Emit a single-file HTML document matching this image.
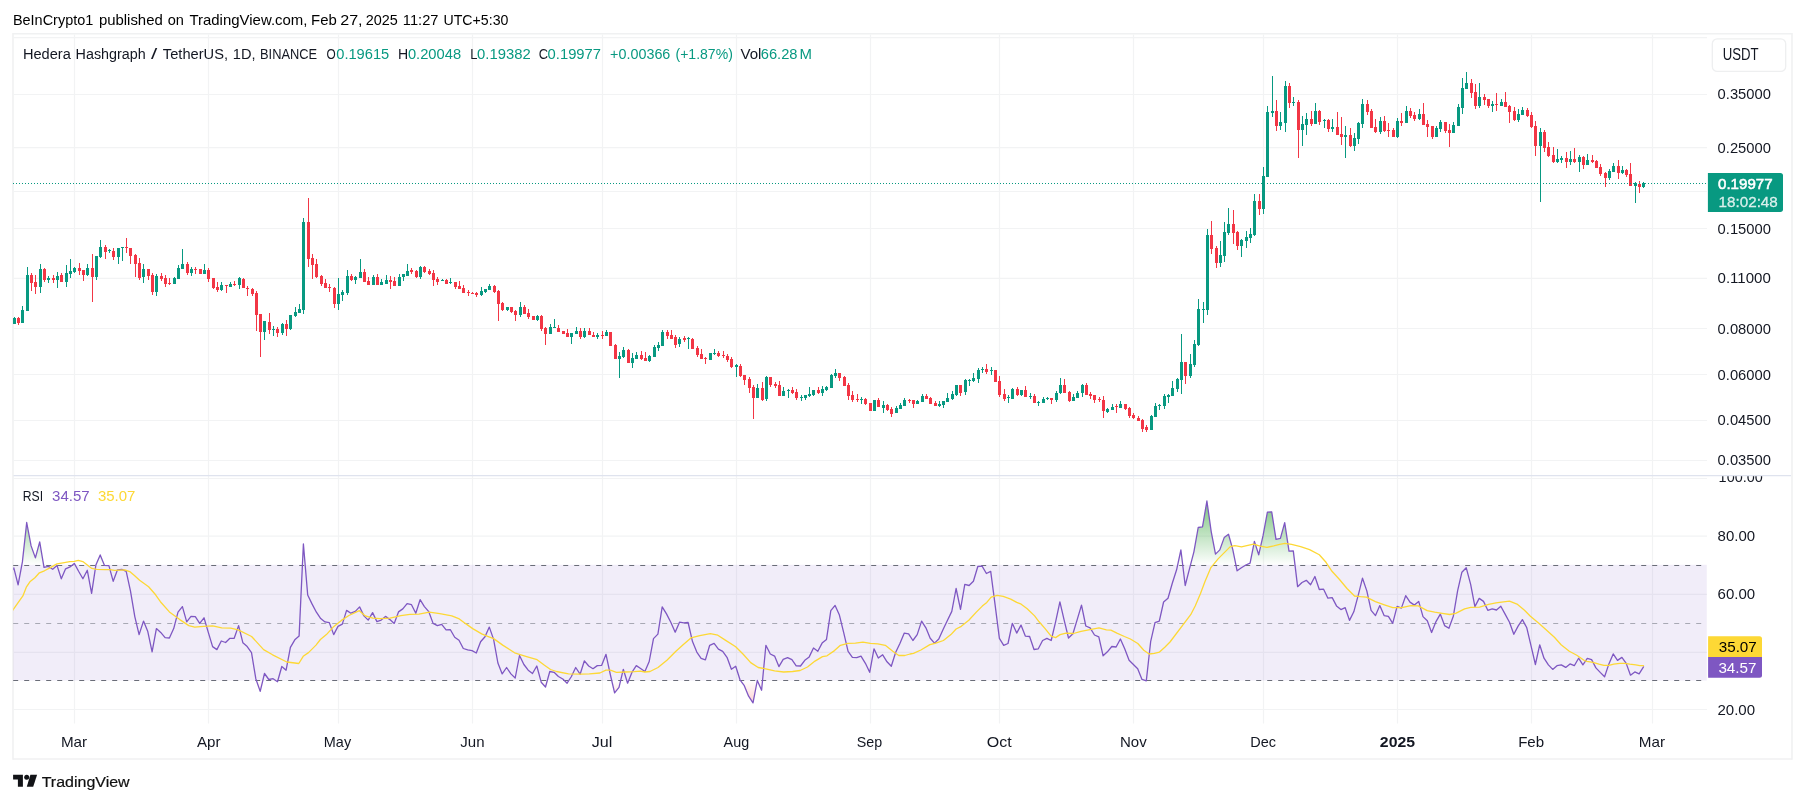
<!DOCTYPE html>
<html><head><meta charset="utf-8"><title>HBARUSDT chart</title>
<style>html,body{margin:0;padding:0;background:#fff;}body{width:1805px;height:803px;overflow:hidden;font-family:"Liberation Sans", sans-serif;}svg text{white-space:pre;}</style>
</head><body>
<svg width="1805" height="803" viewBox="0 0 1805 803" font-family='"Liberation Sans", sans-serif' style="display:block;will-change:transform">
<rect width="1805" height="803" fill="#fff"/>
<text x="12.90" y="24.7" font-size="14.6" fill="#000" font-weight="normal" text-anchor="start" textLength="80.41" lengthAdjust="spacingAndGlyphs">BeInCrypto1</text>
<text x="98.90" y="24.7" font-size="14.6" fill="#000" font-weight="normal" text-anchor="start" textLength="63.87" lengthAdjust="spacingAndGlyphs">published</text>
<text x="167.69" y="24.7" font-size="14.6" fill="#000" font-weight="normal" text-anchor="start" textLength="16.21" lengthAdjust="spacingAndGlyphs">on</text>
<text x="189.43" y="24.7" font-size="14.6" fill="#000" font-weight="normal" text-anchor="start" textLength="118.04" lengthAdjust="spacingAndGlyphs">TradingView.com,</text>
<text x="311.10" y="24.7" font-size="14.6" fill="#000" font-weight="normal" text-anchor="start" textLength="25.72" lengthAdjust="spacingAndGlyphs">Feb</text>
<text x="340.20" y="24.7" font-size="14.6" fill="#000" font-weight="normal" text-anchor="start" textLength="22.40" lengthAdjust="spacingAndGlyphs">27,</text>
<text x="365.80" y="24.7" font-size="14.6" fill="#000" font-weight="normal" text-anchor="start" textLength="32.10" lengthAdjust="spacingAndGlyphs">2025</text>
<text x="402.88" y="24.7" font-size="14.6" fill="#000" font-weight="normal" text-anchor="start" textLength="35.57" lengthAdjust="spacingAndGlyphs">11:27</text>
<text x="443.50" y="24.7" font-size="14.6" fill="#000" font-weight="normal" text-anchor="start" textLength="64.87" lengthAdjust="spacingAndGlyphs">UTC+5:30</text>
<g stroke="#f0f1f2" stroke-width="1.6" fill="none">
<line x1="13.0" y1="33.0" x2="13.0" y2="759.8"/><line x1="1792.0" y1="33.0" x2="1792.0" y2="759.8"/>
<line x1="13.0" y1="33.8" x2="1792.0" y2="33.8"/><line x1="13.0" y1="759.0" x2="1792.0" y2="759.0"/>
</g>
<g stroke="#f2f3f4" stroke-width="1.2">
<line x1="74.5" y1="34.5" x2="74.5" y2="723.6"/>
<line x1="208.5" y1="34.5" x2="208.5" y2="723.6"/>
<line x1="338.5" y1="34.5" x2="338.5" y2="723.6"/>
<line x1="472.5" y1="34.5" x2="472.5" y2="723.6"/>
<line x1="602.5" y1="34.5" x2="602.5" y2="723.6"/>
<line x1="736.5" y1="34.5" x2="736.5" y2="723.6"/>
<line x1="870.5" y1="34.5" x2="870.5" y2="723.6"/>
<line x1="999.5" y1="34.5" x2="999.5" y2="723.6"/>
<line x1="1133.5" y1="34.5" x2="1133.5" y2="723.6"/>
<line x1="1263.5" y1="34.5" x2="1263.5" y2="723.6"/>
<line x1="1397.5" y1="34.5" x2="1397.5" y2="723.6"/>
<line x1="1531.5" y1="34.5" x2="1531.5" y2="723.6"/>
<line x1="1652.5" y1="34.5" x2="1652.5" y2="723.6"/>
<line x1="13.5" y1="37.6" x2="1707" y2="37.6"/>
<line x1="13.5" y1="94.5" x2="1707" y2="94.5"/>
<line x1="13.5" y1="147.6" x2="1707" y2="147.6"/>
<line x1="13.5" y1="191.5" x2="1707" y2="191.5"/>
<line x1="13.5" y1="228.5" x2="1707" y2="228.5"/>
<line x1="13.5" y1="278.4" x2="1707" y2="278.4"/>
<line x1="13.5" y1="328.5" x2="1707" y2="328.5"/>
<line x1="13.5" y1="374.5" x2="1707" y2="374.5"/>
<line x1="13.5" y1="420.5" x2="1707" y2="420.5"/>
<line x1="13.5" y1="460.5" x2="1707" y2="460.5"/>
<line x1="13.5" y1="478.5" x2="1707" y2="478.5"/>
<line x1="13.5" y1="536.2" x2="1707" y2="536.2"/>
<line x1="13.5" y1="594.3" x2="1707" y2="594.3"/>
<line x1="13.5" y1="652.3" x2="1707" y2="652.3"/>
<line x1="13.5" y1="709.5" x2="1707" y2="709.5"/>
</g>
<line x1="13.5" y1="475.6" x2="1791" y2="475.6" stroke="#dfe3ee" stroke-width="1.1"/>
<rect x="13.2" y="564.8" width="1693.6" height="115.7" fill="#7e57c2" fill-opacity="0.105"/>
<g shape-rendering="crispEdges">
<path fill="#089981" d="M14 317h1v7h-1zM22 306h1v17h-1zM27 267h1v44h-1zM40 264h1v29h-1zM48 276h1v7h-1zM57 272h1v16h-1zM66 265h1v22h-1zM70 259h1v19h-1zM74 267h1v6h-1zM87 264h1v12h-1zM96 256h1v24h-1zM100 240h1v18h-1zM109 249h1v4h-1zM118 248h1v16h-1zM122 247h1v14h-1zM143 264h1v19h-1zM156 274h1v22h-1zM174 277h1v7h-1zM178 265h1v14h-1zM182 249h1v20h-1zM191 267h1v9h-1zM204 264h1v10h-1zM221 282h1v9h-1zM230 282h1v5h-1zM239 277h1v12h-1zM264 321h1v19h-1zM273 326h1v10h-1zM282 323h1v12h-1zM290 315h1v15h-1zM295 307h1v10h-1zM299 304h1v9h-1zM303 218h1v96h-1zM338 278h1v32h-1zM342 290h1v11h-1zM347 270h1v25h-1zM355 276h1v8h-1zM360 259h1v19h-1zM373 275h1v10h-1zM381 279h1v6h-1zM386 275h1v9h-1zM399 274h1v12h-1zM403 274h1v7h-1zM407 264h1v12h-1zM420 266h1v13h-1zM442 279h1v2h-1zM450 278h1v6h-1zM481 287h1v9h-1zM485 289h1v4h-1zM489 284h1v6h-1zM507 307h1v4h-1zM520 302h1v15h-1zM537 315h1v6h-1zM550 324h1v10h-1zM554 319h1v9h-1zM571 333h1v11h-1zM576 327h1v7h-1zM584 328h1v10h-1zM597 333h1v6h-1zM606 330h1v6h-1zM619 352h1v26h-1zM623 347h1v11h-1zM632 353h1v15h-1zM636 352h1v7h-1zM649 355h1v7h-1zM654 345h1v12h-1zM658 342h1v9h-1zM662 330h1v16h-1zM679 337h1v10h-1zM688 337h1v12h-1zM710 353h1v7h-1zM714 349h1v6h-1zM736 364h1v13h-1zM757 384h1v14h-1zM766 376h1v25h-1zM783 387h1v9h-1zM788 389h1v9h-1zM801 395h1v6h-1zM805 395h1v5h-1zM809 387h1v10h-1zM813 390h1v6h-1zM822 386h1v10h-1zM826 386h1v5h-1zM831 374h1v14h-1zM835 369h1v9h-1zM861 397h1v7h-1zM874 400h1v11h-1zM883 401h1v12h-1zM896 406h1v7h-1zM900 403h1v6h-1zM904 398h1v8h-1zM917 400h1v4h-1zM922 394h1v8h-1zM939 401h1v6h-1zM943 401h1v7h-1zM947 393h1v9h-1zM952 391h1v9h-1zM956 385h1v11h-1zM965 379h1v16h-1zM969 379h1v7h-1zM973 373h1v9h-1zM978 368h1v15h-1zM982 367h1v6h-1zM991 367h1v8h-1zM1008 395h1v8h-1zM1012 388h1v11h-1zM1021 390h1v6h-1zM1030 393h1v6h-1zM1038 401h1v5h-1zM1043 397h1v6h-1zM1047 397h1v3h-1zM1056 391h1v11h-1zM1060 378h1v16h-1zM1073 394h1v7h-1zM1077 391h1v7h-1zM1082 384h1v13h-1zM1107 408h1v5h-1zM1112 404h1v6h-1zM1120 401h1v7h-1zM1151 415h1v15h-1zM1155 403h1v14h-1zM1159 404h1v6h-1zM1164 394h1v15h-1zM1168 394h1v9h-1zM1172 381h1v15h-1zM1177 378h1v14h-1zM1181 334h1v60h-1zM1190 354h1v24h-1zM1194 340h1v27h-1zM1198 299h1v47h-1zM1203 302h1v21h-1zM1207 229h1v86h-1zM1220 241h1v26h-1zM1224 222h1v40h-1zM1228 208h1v27h-1zM1241 239h1v18h-1zM1246 231h1v17h-1zM1250 228h1v15h-1zM1254 194h1v42h-1zM1263 167h1v47h-1zM1267 106h1v71h-1zM1272 76h1v41h-1zM1280 112h1v18h-1zM1285 81h1v51h-1zM1293 97h1v9h-1zM1302 116h1v30h-1zM1306 113h1v22h-1zM1315 103h1v21h-1zM1324 119h1v9h-1zM1332 119h1v13h-1zM1345 126h1v32h-1zM1354 133h1v18h-1zM1358 122h1v22h-1zM1362 99h1v29h-1zM1380 117h1v17h-1zM1397 118h1v20h-1zM1406 106h1v17h-1zM1419 109h1v11h-1zM1436 126h1v11h-1zM1440 120h1v12h-1zM1453 122h1v11h-1zM1458 104h1v22h-1zM1462 78h1v36h-1zM1466 72h1v17h-1zM1479 83h1v25h-1zM1492 101h1v11h-1zM1501 99h1v7h-1zM1518 109h1v13h-1zM1522 107h1v8h-1zM1540 128h1v74h-1zM1557 149h1v14h-1zM1561 156h1v7h-1zM1570 151h1v14h-1zM1579 155h1v17h-1zM1587 154h1v11h-1zM1609 169h1v11h-1zM1613 163h1v9h-1zM1622 166h1v8h-1zM1635 182h1v21h-1zM1643 182h1v6h-1zM13 318h3v6h-3zM21 310h3v13h-3zM26 275h3v36h-3zM39 269h3v18h-3zM47 278h3v2h-3zM56 276h3v4h-3zM65 273h3v9h-3zM69 271h3v3h-3zM73 268h3v4h-3zM86 268h3v7h-3zM95 256h3v21h-3zM99 247h3v10h-3zM108 250h3v1h-3zM117 248h3v9h-3zM121 247h3v1h-3zM142 269h3v8h-3zM155 276h3v16h-3zM173 278h3v6h-3zM177 268h3v11h-3zM181 264h3v5h-3zM190 269h3v4h-3zM203 270h3v4h-3zM220 285h3v5h-3zM229 284h3v3h-3zM238 278h3v7h-3zM263 321h3v11h-3zM272 329h3v1h-3zM281 324h3v9h-3zM289 315h3v14h-3zM294 312h3v4h-3zM298 309h3v4h-3zM302 222h3v88h-3zM337 294h3v10h-3zM341 292h3v3h-3zM346 276h3v17h-3zM354 277h3v3h-3zM359 272h3v6h-3zM372 277h3v8h-3zM380 282h3v3h-3zM385 280h3v4h-3zM398 277h3v9h-3zM402 274h3v3h-3zM406 271h3v5h-3zM419 267h3v10h-3zM441 280h3v1h-3zM449 282h3v1h-3zM480 291h3v4h-3zM484 289h3v3h-3zM488 286h3v4h-3zM506 307h3v3h-3zM519 307h3v8h-3zM536 316h3v4h-3zM549 327h3v7h-3zM553 327h3v1h-3zM570 333h3v4h-3zM575 331h3v3h-3zM583 331h3v6h-3zM596 335h3v2h-3zM605 332h3v4h-3zM618 356h3v3h-3zM622 350h3v7h-3zM631 358h3v5h-3zM635 355h3v4h-3zM648 356h3v5h-3zM653 347h3v10h-3zM657 345h3v3h-3zM661 332h3v14h-3zM678 339h3v5h-3zM687 338h3v1h-3zM709 353h3v7h-3zM713 353h3v1h-3zM735 365h3v2h-3zM756 388h3v10h-3zM765 377h3v22h-3zM782 391h3v5h-3zM787 390h3v1h-3zM800 397h3v1h-3zM804 395h3v3h-3zM808 394h3v2h-3zM812 390h3v5h-3zM821 389h3v4h-3zM825 387h3v3h-3zM830 375h3v13h-3zM834 373h3v3h-3zM860 399h3v1h-3zM873 400h3v11h-3zM882 405h3v3h-3zM895 408h3v5h-3zM899 405h3v4h-3zM903 400h3v6h-3zM916 401h3v3h-3zM921 396h3v6h-3zM938 404h3v2h-3zM942 401h3v4h-3zM946 398h3v4h-3zM951 394h3v5h-3zM955 385h3v10h-3zM964 380h3v12h-3zM968 380h3v1h-3zM972 378h3v3h-3zM977 370h3v9h-3zM981 369h3v1h-3zM990 370h3v1h-3zM1007 397h3v1h-3zM1011 389h3v10h-3zM1020 390h3v5h-3zM1029 396h3v1h-3zM1037 402h3v1h-3zM1042 399h3v4h-3zM1046 398h3v1h-3zM1055 393h3v7h-3zM1059 385h3v8h-3zM1072 397h3v4h-3zM1076 393h3v5h-3zM1081 385h3v8h-3zM1106 409h3v3h-3zM1111 407h3v3h-3zM1119 404h3v4h-3zM1150 416h3v14h-3zM1154 406h3v11h-3zM1158 405h3v1h-3zM1163 396h3v10h-3zM1167 395h3v2h-3zM1171 388h3v8h-3zM1176 379h3v10h-3zM1180 362h3v18h-3zM1189 364h3v12h-3zM1193 344h3v21h-3zM1197 309h3v36h-3zM1202 309h3v1h-3zM1206 235h3v75h-3zM1219 255h3v8h-3zM1223 232h3v24h-3zM1227 224h3v9h-3zM1240 240h3v6h-3zM1245 237h3v4h-3zM1249 234h3v4h-3zM1253 201h3v34h-3zM1262 176h3v33h-3zM1266 112h3v65h-3zM1271 111h3v2h-3zM1279 122h3v4h-3zM1284 86h3v37h-3zM1292 102h3v1h-3zM1301 124h3v6h-3zM1305 119h3v6h-3zM1314 111h3v13h-3zM1323 120h3v1h-3zM1331 127h3v2h-3zM1344 135h3v2h-3zM1353 138h3v8h-3zM1357 123h3v16h-3zM1361 104h3v20h-3zM1379 121h3v11h-3zM1396 121h3v16h-3zM1405 111h3v12h-3zM1418 114h3v5h-3zM1435 128h3v9h-3zM1439 122h3v7h-3zM1452 125h3v8h-3zM1457 107h3v19h-3zM1461 88h3v20h-3zM1465 83h3v6h-3zM1478 97h3v9h-3zM1491 104h3v2h-3zM1500 102h3v4h-3zM1517 114h3v6h-3zM1521 110h3v5h-3zM1539 132h3v14h-3zM1556 159h3v3h-3zM1560 158h3v2h-3zM1569 159h3v3h-3zM1578 157h3v5h-3zM1586 160h3v5h-3zM1608 171h3v7h-3zM1612 166h3v6h-3zM1621 170h3v3h-3zM1634 183h3v3h-3zM1642 183h3v4h-3z"/>
<path fill="#f23645" d="M18 317h1v8h-1zM31 273h1v18h-1zM35 275h1v19h-1zM44 268h1v14h-1zM53 275h1v8h-1zM61 273h1v9h-1zM79 263h1v12h-1zM83 270h1v11h-1zM92 254h1v48h-1zM105 245h1v14h-1zM113 248h1v12h-1zM126 238h1v15h-1zM130 248h1v16h-1zM135 254h1v23h-1zM139 258h1v22h-1zM148 269h1v11h-1zM152 273h1v22h-1zM161 273h1v8h-1zM165 275h1v12h-1zM169 278h1v7h-1zM187 262h1v13h-1zM195 267h1v7h-1zM200 269h1v5h-1zM208 268h1v14h-1zM213 278h1v11h-1zM217 282h1v10h-1zM226 285h1v8h-1zM234 281h1v5h-1zM243 278h1v10h-1zM247 286h1v10h-1zM252 288h1v8h-1zM256 291h1v40h-1zM260 314h1v43h-1zM269 313h1v21h-1zM277 327h1v10h-1zM286 320h1v16h-1zM308 198h1v69h-1zM312 254h1v25h-1zM316 259h1v19h-1zM321 275h1v11h-1zM325 279h1v9h-1zM329 284h1v8h-1zM334 287h1v21h-1zM351 274h1v7h-1zM364 269h1v13h-1zM368 277h1v8h-1zM377 274h1v11h-1zM390 276h1v13h-1zM394 277h1v9h-1zM411 268h1v6h-1zM416 270h1v8h-1zM424 266h1v7h-1zM429 269h1v6h-1zM433 270h1v16h-1zM437 277h1v8h-1zM446 279h1v5h-1zM455 282h1v7h-1zM459 281h1v8h-1zM463 285h1v8h-1zM468 290h1v6h-1zM472 292h1v2h-1zM476 292h1v5h-1zM494 285h1v8h-1zM498 290h1v31h-1zM502 302h1v9h-1zM511 307h1v6h-1zM515 310h1v11h-1zM524 305h1v9h-1zM528 309h1v10h-1zM533 316h1v4h-1zM541 315h1v16h-1zM545 327h1v18h-1zM558 325h1v7h-1zM563 331h1v3h-1zM567 329h1v8h-1zM580 328h1v11h-1zM589 328h1v7h-1zM593 332h1v5h-1zM602 331h1v8h-1zM610 332h1v14h-1zM615 344h1v15h-1zM628 349h1v14h-1zM641 351h1v9h-1zM645 352h1v9h-1zM667 330h1v9h-1zM671 330h1v9h-1zM675 335h1v13h-1zM684 336h1v6h-1zM692 338h1v11h-1zM697 346h1v11h-1zM701 349h1v10h-1zM705 357h1v7h-1zM718 351h1v6h-1zM723 351h1v7h-1zM727 354h1v8h-1zM731 357h1v11h-1zM740 364h1v13h-1zM744 375h1v10h-1zM749 377h1v16h-1zM753 385h1v34h-1zM762 382h1v19h-1zM770 377h1v10h-1zM775 382h1v6h-1zM779 381h1v15h-1zM792 387h1v7h-1zM796 389h1v11h-1zM818 387h1v7h-1zM839 373h1v8h-1zM844 376h1v10h-1zM848 383h1v17h-1zM852 391h1v11h-1zM857 394h1v8h-1zM865 398h1v7h-1zM870 403h1v8h-1zM878 398h1v9h-1zM887 404h1v7h-1zM891 407h1v10h-1zM909 399h1v4h-1zM913 400h1v8h-1zM926 394h1v5h-1zM930 397h1v7h-1zM935 401h1v5h-1zM960 385h1v11h-1zM986 364h1v10h-1zM995 370h1v12h-1zM999 376h1v21h-1zM1004 389h1v12h-1zM1017 387h1v9h-1zM1025 386h1v11h-1zM1034 394h1v9h-1zM1051 398h1v6h-1zM1064 379h1v14h-1zM1069 391h1v11h-1zM1086 383h1v12h-1zM1090 392h1v7h-1zM1094 395h1v8h-1zM1099 397h1v5h-1zM1103 396h1v22h-1zM1116 404h1v9h-1zM1125 404h1v6h-1zM1129 407h1v11h-1zM1133 413h1v6h-1zM1138 416h1v5h-1zM1142 419h1v13h-1zM1146 425h1v7h-1zM1185 362h1v22h-1zM1211 221h1v33h-1zM1216 246h1v22h-1zM1233 210h1v34h-1zM1237 231h1v19h-1zM1259 194h1v21h-1zM1276 100h1v31h-1zM1289 83h1v25h-1zM1298 100h1v58h-1zM1311 111h1v15h-1zM1319 110h1v15h-1zM1328 119h1v13h-1zM1337 112h1v23h-1zM1341 117h1v28h-1zM1350 128h1v19h-1zM1367 100h1v15h-1zM1371 109h1v19h-1zM1375 119h1v14h-1zM1384 116h1v16h-1zM1388 123h1v14h-1zM1393 128h1v9h-1zM1401 113h1v13h-1zM1410 108h1v10h-1zM1414 112h1v9h-1zM1423 103h1v22h-1zM1427 120h1v17h-1zM1432 126h1v13h-1zM1445 122h1v11h-1zM1449 124h1v23h-1zM1471 79h1v19h-1zM1475 84h1v25h-1zM1484 94h1v11h-1zM1488 99h1v9h-1zM1496 93h1v18h-1zM1505 92h1v15h-1zM1509 105h1v18h-1zM1514 107h1v14h-1zM1527 108h1v9h-1zM1531 112h1v16h-1zM1535 121h1v35h-1zM1544 130h1v22h-1zM1548 142h1v15h-1zM1553 147h1v16h-1zM1566 152h1v16h-1zM1574 148h1v15h-1zM1583 156h1v13h-1zM1592 155h1v8h-1zM1596 160h1v8h-1zM1600 164h1v12h-1zM1605 172h1v15h-1zM1618 160h1v19h-1zM1626 169h1v8h-1zM1630 163h1v23h-1zM1639 181h1v12h-1zM17 318h3v5h-3zM30 275h3v8h-3zM34 282h3v5h-3zM43 269h3v11h-3zM52 278h3v2h-3zM60 275h3v7h-3zM78 268h3v3h-3zM82 270h3v5h-3zM91 268h3v9h-3zM104 247h3v5h-3zM112 251h3v6h-3zM125 247h3v1h-3zM129 248h3v8h-3zM134 255h3v9h-3zM138 263h3v15h-3zM147 269h3v7h-3zM151 275h3v17h-3zM160 276h3v3h-3zM164 278h3v6h-3zM168 283h3v1h-3zM186 264h3v9h-3zM194 269h3v1h-3zM199 269h3v5h-3zM207 270h3v9h-3zM212 278h3v10h-3zM216 287h3v3h-3zM225 285h3v1h-3zM233 284h3v1h-3zM242 279h3v9h-3zM246 288h3v1h-3zM251 289h3v5h-3zM255 293h3v22h-3zM259 314h3v18h-3zM268 322h3v8h-3zM276 329h3v4h-3zM285 324h3v5h-3zM307 222h3v37h-3zM311 258h3v7h-3zM315 264h3v13h-3zM320 276h3v8h-3zM324 283h3v5h-3zM328 287h3v1h-3zM333 288h3v16h-3zM350 276h3v4h-3zM363 272h3v10h-3zM367 281h3v4h-3zM376 277h3v8h-3zM389 280h3v2h-3zM393 281h3v5h-3zM410 270h3v2h-3zM415 271h3v6h-3zM423 267h3v5h-3zM428 271h3v3h-3zM432 273h3v7h-3zM436 279h3v3h-3zM445 280h3v4h-3zM454 282h3v5h-3zM458 286h3v3h-3zM462 288h3v5h-3zM467 292h3v1h-3zM471 293h3v1h-3zM475 293h3v2h-3zM493 286h3v6h-3zM497 291h3v13h-3zM501 303h3v7h-3zM510 307h3v5h-3zM514 311h3v4h-3zM523 307h3v7h-3zM527 313h3v4h-3zM532 316h3v4h-3zM540 316h3v13h-3zM544 328h3v6h-3zM557 328h3v4h-3zM562 331h3v3h-3zM566 333h3v4h-3zM579 331h3v6h-3zM588 331h3v4h-3zM592 335h3v2h-3zM601 335h3v1h-3zM609 332h3v14h-3zM614 345h3v14h-3zM627 350h3v13h-3zM640 355h3v4h-3zM644 358h3v3h-3zM666 332h3v4h-3zM670 335h3v4h-3zM674 337h3v8h-3zM683 338h3v2h-3zM691 339h3v10h-3zM696 348h3v7h-3zM700 354h3v5h-3zM704 358h3v1h-3zM717 353h3v3h-3zM722 355h3v1h-3zM726 356h3v4h-3zM730 359h3v8h-3zM739 366h3v10h-3zM743 375h3v5h-3zM748 379h3v9h-3zM752 387h3v11h-3zM761 388h3v12h-3zM769 377h3v8h-3zM774 384h3v2h-3zM778 385h3v11h-3zM791 390h3v3h-3zM795 392h3v6h-3zM817 390h3v3h-3zM838 373h3v5h-3zM843 377h3v9h-3zM847 385h3v11h-3zM851 395h3v5h-3zM856 399h3v1h-3zM864 399h3v5h-3zM869 403h3v8h-3zM877 400h3v7h-3zM886 405h3v5h-3zM890 409h3v5h-3zM908 400h3v1h-3zM912 400h3v4h-3zM925 396h3v3h-3zM929 398h3v6h-3zM934 403h3v3h-3zM959 385h3v8h-3zM985 369h3v3h-3zM994 370h3v12h-3zM998 381h3v14h-3zM1003 394h3v5h-3zM1016 389h3v6h-3zM1024 390h3v7h-3zM1033 396h3v7h-3zM1050 398h3v2h-3zM1063 385h3v8h-3zM1068 392h3v9h-3zM1085 385h3v10h-3zM1089 394h3v2h-3zM1093 395h3v5h-3zM1098 399h3v1h-3zM1102 400h3v11h-3zM1115 406h3v1h-3zM1124 404h3v5h-3zM1128 408h3v8h-3zM1132 415h3v3h-3zM1137 418h3v3h-3zM1141 420h3v9h-3zM1145 427h3v3h-3zM1184 362h3v14h-3zM1210 235h3v14h-3zM1215 248h3v15h-3zM1232 224h3v9h-3zM1236 232h3v14h-3zM1258 201h3v8h-3zM1275 111h3v15h-3zM1288 86h3v17h-3zM1297 102h3v28h-3zM1310 119h3v5h-3zM1318 111h3v11h-3zM1327 120h3v9h-3zM1336 127h3v8h-3zM1340 134h3v3h-3zM1349 135h3v11h-3zM1366 104h3v8h-3zM1370 111h3v17h-3zM1374 127h3v5h-3zM1383 121h3v10h-3zM1387 130h3v1h-3zM1392 130h3v7h-3zM1400 121h3v2h-3zM1409 111h3v5h-3zM1413 115h3v4h-3zM1422 114h3v11h-3zM1426 124h3v3h-3zM1431 126h3v11h-3zM1444 122h3v9h-3zM1448 130h3v3h-3zM1470 83h3v10h-3zM1474 92h3v14h-3zM1483 97h3v3h-3zM1487 99h3v7h-3zM1495 104h3v1h-3zM1504 102h3v5h-3zM1508 106h3v6h-3zM1513 111h3v9h-3zM1526 110h3v6h-3zM1530 115h3v12h-3zM1534 126h3v20h-3zM1543 132h3v16h-3zM1547 147h3v9h-3zM1552 155h3v7h-3zM1565 158h3v4h-3zM1573 159h3v3h-3zM1582 157h3v8h-3zM1591 160h3v2h-3zM1595 161h3v7h-3zM1599 167h3v7h-3zM1604 173h3v5h-3zM1617 166h3v7h-3zM1625 170h3v5h-3zM1629 174h3v12h-3zM1638 184h3v3h-3z"/>
</g>
<path fill="#089981" d="M13 183h1v1h-1zM16 183h1v1h-1zM19 183h1v1h-1zM22 183h1v1h-1zM25 183h1v1h-1zM28 183h1v1h-1zM31 183h1v1h-1zM34 183h1v1h-1zM37 183h1v1h-1zM40 183h1v1h-1zM43 183h1v1h-1zM46 183h1v1h-1zM49 183h1v1h-1zM52 183h1v1h-1zM55 183h1v1h-1zM58 183h1v1h-1zM61 183h1v1h-1zM64 183h1v1h-1zM67 183h1v1h-1zM70 183h1v1h-1zM73 183h1v1h-1zM76 183h1v1h-1zM79 183h1v1h-1zM82 183h1v1h-1zM85 183h1v1h-1zM88 183h1v1h-1zM91 183h1v1h-1zM94 183h1v1h-1zM97 183h1v1h-1zM100 183h1v1h-1zM103 183h1v1h-1zM106 183h1v1h-1zM109 183h1v1h-1zM112 183h1v1h-1zM115 183h1v1h-1zM118 183h1v1h-1zM121 183h1v1h-1zM124 183h1v1h-1zM127 183h1v1h-1zM130 183h1v1h-1zM133 183h1v1h-1zM136 183h1v1h-1zM139 183h1v1h-1zM142 183h1v1h-1zM145 183h1v1h-1zM148 183h1v1h-1zM151 183h1v1h-1zM154 183h1v1h-1zM157 183h1v1h-1zM160 183h1v1h-1zM163 183h1v1h-1zM166 183h1v1h-1zM169 183h1v1h-1zM172 183h1v1h-1zM175 183h1v1h-1zM178 183h1v1h-1zM181 183h1v1h-1zM184 183h1v1h-1zM187 183h1v1h-1zM190 183h1v1h-1zM193 183h1v1h-1zM196 183h1v1h-1zM199 183h1v1h-1zM202 183h1v1h-1zM205 183h1v1h-1zM208 183h1v1h-1zM211 183h1v1h-1zM214 183h1v1h-1zM217 183h1v1h-1zM220 183h1v1h-1zM223 183h1v1h-1zM226 183h1v1h-1zM229 183h1v1h-1zM232 183h1v1h-1zM235 183h1v1h-1zM238 183h1v1h-1zM241 183h1v1h-1zM244 183h1v1h-1zM247 183h1v1h-1zM250 183h1v1h-1zM253 183h1v1h-1zM256 183h1v1h-1zM259 183h1v1h-1zM262 183h1v1h-1zM265 183h1v1h-1zM268 183h1v1h-1zM271 183h1v1h-1zM274 183h1v1h-1zM277 183h1v1h-1zM280 183h1v1h-1zM283 183h1v1h-1zM286 183h1v1h-1zM289 183h1v1h-1zM292 183h1v1h-1zM295 183h1v1h-1zM298 183h1v1h-1zM301 183h1v1h-1zM304 183h1v1h-1zM307 183h1v1h-1zM310 183h1v1h-1zM313 183h1v1h-1zM316 183h1v1h-1zM319 183h1v1h-1zM322 183h1v1h-1zM325 183h1v1h-1zM328 183h1v1h-1zM331 183h1v1h-1zM334 183h1v1h-1zM337 183h1v1h-1zM340 183h1v1h-1zM343 183h1v1h-1zM346 183h1v1h-1zM349 183h1v1h-1zM352 183h1v1h-1zM355 183h1v1h-1zM358 183h1v1h-1zM361 183h1v1h-1zM364 183h1v1h-1zM367 183h1v1h-1zM370 183h1v1h-1zM373 183h1v1h-1zM376 183h1v1h-1zM379 183h1v1h-1zM382 183h1v1h-1zM385 183h1v1h-1zM388 183h1v1h-1zM391 183h1v1h-1zM394 183h1v1h-1zM397 183h1v1h-1zM400 183h1v1h-1zM403 183h1v1h-1zM406 183h1v1h-1zM409 183h1v1h-1zM412 183h1v1h-1zM415 183h1v1h-1zM418 183h1v1h-1zM421 183h1v1h-1zM424 183h1v1h-1zM427 183h1v1h-1zM430 183h1v1h-1zM433 183h1v1h-1zM436 183h1v1h-1zM439 183h1v1h-1zM442 183h1v1h-1zM445 183h1v1h-1zM448 183h1v1h-1zM451 183h1v1h-1zM454 183h1v1h-1zM457 183h1v1h-1zM460 183h1v1h-1zM463 183h1v1h-1zM466 183h1v1h-1zM469 183h1v1h-1zM472 183h1v1h-1zM475 183h1v1h-1zM478 183h1v1h-1zM481 183h1v1h-1zM484 183h1v1h-1zM487 183h1v1h-1zM490 183h1v1h-1zM493 183h1v1h-1zM496 183h1v1h-1zM499 183h1v1h-1zM502 183h1v1h-1zM505 183h1v1h-1zM508 183h1v1h-1zM511 183h1v1h-1zM514 183h1v1h-1zM517 183h1v1h-1zM520 183h1v1h-1zM523 183h1v1h-1zM526 183h1v1h-1zM529 183h1v1h-1zM532 183h1v1h-1zM535 183h1v1h-1zM538 183h1v1h-1zM541 183h1v1h-1zM544 183h1v1h-1zM547 183h1v1h-1zM550 183h1v1h-1zM553 183h1v1h-1zM556 183h1v1h-1zM559 183h1v1h-1zM562 183h1v1h-1zM565 183h1v1h-1zM568 183h1v1h-1zM571 183h1v1h-1zM574 183h1v1h-1zM577 183h1v1h-1zM580 183h1v1h-1zM583 183h1v1h-1zM586 183h1v1h-1zM589 183h1v1h-1zM592 183h1v1h-1zM595 183h1v1h-1zM598 183h1v1h-1zM601 183h1v1h-1zM604 183h1v1h-1zM607 183h1v1h-1zM610 183h1v1h-1zM613 183h1v1h-1zM616 183h1v1h-1zM619 183h1v1h-1zM622 183h1v1h-1zM625 183h1v1h-1zM628 183h1v1h-1zM631 183h1v1h-1zM634 183h1v1h-1zM637 183h1v1h-1zM640 183h1v1h-1zM643 183h1v1h-1zM646 183h1v1h-1zM649 183h1v1h-1zM652 183h1v1h-1zM655 183h1v1h-1zM658 183h1v1h-1zM661 183h1v1h-1zM664 183h1v1h-1zM667 183h1v1h-1zM670 183h1v1h-1zM673 183h1v1h-1zM676 183h1v1h-1zM679 183h1v1h-1zM682 183h1v1h-1zM685 183h1v1h-1zM688 183h1v1h-1zM691 183h1v1h-1zM694 183h1v1h-1zM697 183h1v1h-1zM700 183h1v1h-1zM703 183h1v1h-1zM706 183h1v1h-1zM709 183h1v1h-1zM712 183h1v1h-1zM715 183h1v1h-1zM718 183h1v1h-1zM721 183h1v1h-1zM724 183h1v1h-1zM727 183h1v1h-1zM730 183h1v1h-1zM733 183h1v1h-1zM736 183h1v1h-1zM739 183h1v1h-1zM742 183h1v1h-1zM745 183h1v1h-1zM748 183h1v1h-1zM751 183h1v1h-1zM754 183h1v1h-1zM757 183h1v1h-1zM760 183h1v1h-1zM763 183h1v1h-1zM766 183h1v1h-1zM769 183h1v1h-1zM772 183h1v1h-1zM775 183h1v1h-1zM778 183h1v1h-1zM781 183h1v1h-1zM784 183h1v1h-1zM787 183h1v1h-1zM790 183h1v1h-1zM793 183h1v1h-1zM796 183h1v1h-1zM799 183h1v1h-1zM802 183h1v1h-1zM805 183h1v1h-1zM808 183h1v1h-1zM811 183h1v1h-1zM814 183h1v1h-1zM817 183h1v1h-1zM820 183h1v1h-1zM823 183h1v1h-1zM826 183h1v1h-1zM829 183h1v1h-1zM832 183h1v1h-1zM835 183h1v1h-1zM838 183h1v1h-1zM841 183h1v1h-1zM844 183h1v1h-1zM847 183h1v1h-1zM850 183h1v1h-1zM853 183h1v1h-1zM856 183h1v1h-1zM859 183h1v1h-1zM862 183h1v1h-1zM865 183h1v1h-1zM868 183h1v1h-1zM871 183h1v1h-1zM874 183h1v1h-1zM877 183h1v1h-1zM880 183h1v1h-1zM883 183h1v1h-1zM886 183h1v1h-1zM889 183h1v1h-1zM892 183h1v1h-1zM895 183h1v1h-1zM898 183h1v1h-1zM901 183h1v1h-1zM904 183h1v1h-1zM907 183h1v1h-1zM910 183h1v1h-1zM913 183h1v1h-1zM916 183h1v1h-1zM919 183h1v1h-1zM922 183h1v1h-1zM925 183h1v1h-1zM928 183h1v1h-1zM931 183h1v1h-1zM934 183h1v1h-1zM937 183h1v1h-1zM940 183h1v1h-1zM943 183h1v1h-1zM946 183h1v1h-1zM949 183h1v1h-1zM952 183h1v1h-1zM955 183h1v1h-1zM958 183h1v1h-1zM961 183h1v1h-1zM964 183h1v1h-1zM967 183h1v1h-1zM970 183h1v1h-1zM973 183h1v1h-1zM976 183h1v1h-1zM979 183h1v1h-1zM982 183h1v1h-1zM985 183h1v1h-1zM988 183h1v1h-1zM991 183h1v1h-1zM994 183h1v1h-1zM997 183h1v1h-1zM1000 183h1v1h-1zM1003 183h1v1h-1zM1006 183h1v1h-1zM1009 183h1v1h-1zM1012 183h1v1h-1zM1015 183h1v1h-1zM1018 183h1v1h-1zM1021 183h1v1h-1zM1024 183h1v1h-1zM1027 183h1v1h-1zM1030 183h1v1h-1zM1033 183h1v1h-1zM1036 183h1v1h-1zM1039 183h1v1h-1zM1042 183h1v1h-1zM1045 183h1v1h-1zM1048 183h1v1h-1zM1051 183h1v1h-1zM1054 183h1v1h-1zM1057 183h1v1h-1zM1060 183h1v1h-1zM1063 183h1v1h-1zM1066 183h1v1h-1zM1069 183h1v1h-1zM1072 183h1v1h-1zM1075 183h1v1h-1zM1078 183h1v1h-1zM1081 183h1v1h-1zM1084 183h1v1h-1zM1087 183h1v1h-1zM1090 183h1v1h-1zM1093 183h1v1h-1zM1096 183h1v1h-1zM1099 183h1v1h-1zM1102 183h1v1h-1zM1105 183h1v1h-1zM1108 183h1v1h-1zM1111 183h1v1h-1zM1114 183h1v1h-1zM1117 183h1v1h-1zM1120 183h1v1h-1zM1123 183h1v1h-1zM1126 183h1v1h-1zM1129 183h1v1h-1zM1132 183h1v1h-1zM1135 183h1v1h-1zM1138 183h1v1h-1zM1141 183h1v1h-1zM1144 183h1v1h-1zM1147 183h1v1h-1zM1150 183h1v1h-1zM1153 183h1v1h-1zM1156 183h1v1h-1zM1159 183h1v1h-1zM1162 183h1v1h-1zM1165 183h1v1h-1zM1168 183h1v1h-1zM1171 183h1v1h-1zM1174 183h1v1h-1zM1177 183h1v1h-1zM1180 183h1v1h-1zM1183 183h1v1h-1zM1186 183h1v1h-1zM1189 183h1v1h-1zM1192 183h1v1h-1zM1195 183h1v1h-1zM1198 183h1v1h-1zM1201 183h1v1h-1zM1204 183h1v1h-1zM1207 183h1v1h-1zM1210 183h1v1h-1zM1213 183h1v1h-1zM1216 183h1v1h-1zM1219 183h1v1h-1zM1222 183h1v1h-1zM1225 183h1v1h-1zM1228 183h1v1h-1zM1231 183h1v1h-1zM1234 183h1v1h-1zM1237 183h1v1h-1zM1240 183h1v1h-1zM1243 183h1v1h-1zM1246 183h1v1h-1zM1249 183h1v1h-1zM1252 183h1v1h-1zM1255 183h1v1h-1zM1258 183h1v1h-1zM1261 183h1v1h-1zM1264 183h1v1h-1zM1267 183h1v1h-1zM1270 183h1v1h-1zM1273 183h1v1h-1zM1276 183h1v1h-1zM1279 183h1v1h-1zM1282 183h1v1h-1zM1285 183h1v1h-1zM1288 183h1v1h-1zM1291 183h1v1h-1zM1294 183h1v1h-1zM1297 183h1v1h-1zM1300 183h1v1h-1zM1303 183h1v1h-1zM1306 183h1v1h-1zM1309 183h1v1h-1zM1312 183h1v1h-1zM1315 183h1v1h-1zM1318 183h1v1h-1zM1321 183h1v1h-1zM1324 183h1v1h-1zM1327 183h1v1h-1zM1330 183h1v1h-1zM1333 183h1v1h-1zM1336 183h1v1h-1zM1339 183h1v1h-1zM1342 183h1v1h-1zM1345 183h1v1h-1zM1348 183h1v1h-1zM1351 183h1v1h-1zM1354 183h1v1h-1zM1357 183h1v1h-1zM1360 183h1v1h-1zM1363 183h1v1h-1zM1366 183h1v1h-1zM1369 183h1v1h-1zM1372 183h1v1h-1zM1375 183h1v1h-1zM1378 183h1v1h-1zM1381 183h1v1h-1zM1384 183h1v1h-1zM1387 183h1v1h-1zM1390 183h1v1h-1zM1393 183h1v1h-1zM1396 183h1v1h-1zM1399 183h1v1h-1zM1402 183h1v1h-1zM1405 183h1v1h-1zM1408 183h1v1h-1zM1411 183h1v1h-1zM1414 183h1v1h-1zM1417 183h1v1h-1zM1420 183h1v1h-1zM1423 183h1v1h-1zM1426 183h1v1h-1zM1429 183h1v1h-1zM1432 183h1v1h-1zM1435 183h1v1h-1zM1438 183h1v1h-1zM1441 183h1v1h-1zM1444 183h1v1h-1zM1447 183h1v1h-1zM1450 183h1v1h-1zM1453 183h1v1h-1zM1456 183h1v1h-1zM1459 183h1v1h-1zM1462 183h1v1h-1zM1465 183h1v1h-1zM1468 183h1v1h-1zM1471 183h1v1h-1zM1474 183h1v1h-1zM1477 183h1v1h-1zM1480 183h1v1h-1zM1483 183h1v1h-1zM1486 183h1v1h-1zM1489 183h1v1h-1zM1492 183h1v1h-1zM1495 183h1v1h-1zM1498 183h1v1h-1zM1501 183h1v1h-1zM1504 183h1v1h-1zM1507 183h1v1h-1zM1510 183h1v1h-1zM1513 183h1v1h-1zM1516 183h1v1h-1zM1519 183h1v1h-1zM1522 183h1v1h-1zM1525 183h1v1h-1zM1528 183h1v1h-1zM1531 183h1v1h-1zM1534 183h1v1h-1zM1537 183h1v1h-1zM1540 183h1v1h-1zM1543 183h1v1h-1zM1546 183h1v1h-1zM1549 183h1v1h-1zM1552 183h1v1h-1zM1555 183h1v1h-1zM1558 183h1v1h-1zM1561 183h1v1h-1zM1564 183h1v1h-1zM1567 183h1v1h-1zM1570 183h1v1h-1zM1573 183h1v1h-1zM1576 183h1v1h-1zM1579 183h1v1h-1zM1582 183h1v1h-1zM1585 183h1v1h-1zM1588 183h1v1h-1zM1591 183h1v1h-1zM1594 183h1v1h-1zM1597 183h1v1h-1zM1600 183h1v1h-1zM1603 183h1v1h-1zM1606 183h1v1h-1zM1609 183h1v1h-1zM1612 183h1v1h-1zM1615 183h1v1h-1zM1618 183h1v1h-1zM1621 183h1v1h-1zM1624 183h1v1h-1zM1627 183h1v1h-1zM1630 183h1v1h-1zM1633 183h1v1h-1zM1636 183h1v1h-1zM1639 183h1v1h-1zM1642 183h1v1h-1zM1645 183h1v1h-1zM1648 183h1v1h-1zM1651 183h1v1h-1zM1654 183h1v1h-1zM1657 183h1v1h-1zM1660 183h1v1h-1zM1663 183h1v1h-1zM1666 183h1v1h-1zM1669 183h1v1h-1zM1672 183h1v1h-1zM1675 183h1v1h-1zM1678 183h1v1h-1zM1681 183h1v1h-1zM1684 183h1v1h-1zM1687 183h1v1h-1zM1690 183h1v1h-1zM1693 183h1v1h-1zM1696 183h1v1h-1zM1699 183h1v1h-1zM1702 183h1v1h-1zM1705 183h1v1h-1z" shape-rendering="crispEdges"/>
<text x="1717.61" y="98.9" font-size="15.0" fill="#131722" font-weight="normal" text-anchor="start" textLength="53.29" lengthAdjust="spacingAndGlyphs">0.35000</text>
<text x="1717.61" y="152.7" font-size="15.0" fill="#131722" font-weight="normal" text-anchor="start" textLength="53.29" lengthAdjust="spacingAndGlyphs">0.25000</text>
<text x="1717.61" y="233.9" font-size="15.0" fill="#131722" font-weight="normal" text-anchor="start" textLength="53.29" lengthAdjust="spacingAndGlyphs">0.15000</text>
<text x="1717.56" y="282.7" font-size="15.0" fill="#131722" font-weight="normal" text-anchor="start" textLength="53.29" lengthAdjust="spacingAndGlyphs">0.11000</text>
<text x="1717.61" y="333.9" font-size="15.0" fill="#131722" font-weight="normal" text-anchor="start" textLength="53.29" lengthAdjust="spacingAndGlyphs">0.08000</text>
<text x="1717.61" y="379.7" font-size="15.0" fill="#131722" font-weight="normal" text-anchor="start" textLength="53.29" lengthAdjust="spacingAndGlyphs">0.06000</text>
<text x="1717.61" y="425.1" font-size="15.0" fill="#131722" font-weight="normal" text-anchor="start" textLength="53.29" lengthAdjust="spacingAndGlyphs">0.04500</text>
<text x="1717.61" y="464.8" font-size="15.0" fill="#131722" font-weight="normal" text-anchor="start" textLength="53.29" lengthAdjust="spacingAndGlyphs">0.03500</text>
<clipPath id="c100"><rect x="1708" y="476.2" width="84" height="20"/></clipPath>
<g clip-path="url(#c100)">
<text x="1718.61" y="482.4" font-size="15.0" fill="#131722" font-weight="normal" text-anchor="start" textLength="44.19" lengthAdjust="spacingAndGlyphs">100.00</text>
</g>
<text x="1717.62" y="540.9" font-size="15.0" fill="#131722" font-weight="normal" text-anchor="start" textLength="37.47" lengthAdjust="spacingAndGlyphs">80.00</text>
<text x="1717.56" y="598.7" font-size="15.0" fill="#131722" font-weight="normal" text-anchor="start" textLength="37.53" lengthAdjust="spacingAndGlyphs">60.00</text>
<text x="1717.45" y="714.8" font-size="15.0" fill="#131722" font-weight="normal" text-anchor="start" textLength="37.64" lengthAdjust="spacingAndGlyphs">20.00</text>
<rect x="1712.3" y="38.8" width="73.4" height="32.6" rx="5" fill="#fff" stroke="#eeeff0" stroke-width="1.3"/>
<text x="1722.70" y="60.4" font-size="16.0" fill="#131722" font-weight="normal" text-anchor="start" textLength="35.92" lengthAdjust="spacingAndGlyphs">USDT</text>
<path fill="#089981" d="M1707.9 172.9H1780.3a2.7 2.7 0 0 1 2.7 2.7V209.3a2.7 2.7 0 0 1 -2.7 2.7H1707.9z"/>
<text x="1718.06" y="188.7" font-size="15.0" fill="#fff" font-weight="normal" text-anchor="start" textLength="54.52" lengthAdjust="spacingAndGlyphs" stroke="#fff" stroke-width="0.55">0.19977</text>
<text x="1718.63" y="206.8" font-size="15.0" fill="#fff" font-weight="normal" text-anchor="start" textLength="59.15" lengthAdjust="spacingAndGlyphs" fill-opacity="0.8" stroke="#fff" stroke-width="0.3" stroke-opacity="0.8">18:02:48</text>
<path fill="#fdd835" d="M1708.1 636.2H1759.5a2.5 2.5 0 0 1 2.5 2.5V656.9H1708.1z"/>
<path fill="#7e57c2" d="M1708.1 656.9H1762V675.3a2.5 2.5 0 0 1 -2.5 2.5H1708.1z"/>
<text x="1718.74" y="652.1" font-size="15.2" fill="#000" font-weight="normal" text-anchor="start" textLength="38.05" lengthAdjust="spacingAndGlyphs">35.07</text>
<text x="1718.41" y="673.2" font-size="15.2" fill="#fff" font-weight="normal" text-anchor="start" textLength="38.10" lengthAdjust="spacingAndGlyphs">34.57</text>
<text x="22.90" y="58.7" font-size="14" fill="#131722" font-weight="normal" text-anchor="start" textLength="47.87" lengthAdjust="spacingAndGlyphs">Hedera</text>
<text x="75.60" y="58.7" font-size="14" fill="#131722" font-weight="normal" text-anchor="start" textLength="70.18" lengthAdjust="spacingAndGlyphs">Hashgraph</text>
<text x="151.09" y="58.7" font-size="14" fill="#131722" font-weight="normal" text-anchor="start" textLength="6.23" lengthAdjust="spacingAndGlyphs">/</text>
<text x="162.85" y="58.7" font-size="14" fill="#131722" font-weight="normal" text-anchor="start" textLength="65.13" lengthAdjust="spacingAndGlyphs">TetherUS,</text>
<text x="232.84" y="58.7" font-size="14" fill="#131722" font-weight="normal" text-anchor="start" textLength="22.76" lengthAdjust="spacingAndGlyphs">1D,</text>
<text x="260.00" y="58.7" font-size="14" fill="#131722" font-weight="normal" text-anchor="start" textLength="57.12" lengthAdjust="spacingAndGlyphs">BINANCE</text>
<text x="326.60" y="58.7" font-size="14" fill="#131722" font-weight="normal" text-anchor="start" textLength="9.19" lengthAdjust="spacingAndGlyphs">O</text>
<text x="336.24" y="58.7" font-size="14" fill="#089981" font-weight="normal" text-anchor="start" textLength="52.97" lengthAdjust="spacingAndGlyphs">0.19615</text>
<text x="398.07" y="58.7" font-size="14" fill="#131722" font-weight="normal" text-anchor="start" textLength="10.16" lengthAdjust="spacingAndGlyphs">H</text>
<text x="407.94" y="58.7" font-size="14" fill="#089981" font-weight="normal" text-anchor="start" textLength="53.13" lengthAdjust="spacingAndGlyphs">0.20048</text>
<text x="470.29" y="58.7" font-size="14" fill="#131722" font-weight="normal" text-anchor="start" textLength="7.15" lengthAdjust="spacingAndGlyphs">L</text>
<text x="477.04" y="58.7" font-size="14" fill="#089981" font-weight="normal" text-anchor="start" textLength="53.61" lengthAdjust="spacingAndGlyphs">0.19382</text>
<text x="538.65" y="58.7" font-size="14" fill="#131722" font-weight="normal" text-anchor="start" textLength="9.31" lengthAdjust="spacingAndGlyphs">C</text>
<text x="547.61" y="58.7" font-size="14" fill="#089981" font-weight="normal" text-anchor="start" textLength="53.37" lengthAdjust="spacingAndGlyphs">0.19977</text>
<text x="610.12" y="58.7" font-size="14" fill="#089981" font-weight="normal" text-anchor="start" textLength="60.24" lengthAdjust="spacingAndGlyphs">+0.00366</text>
<text x="675.47" y="58.7" font-size="14" fill="#089981" font-weight="normal" text-anchor="start" textLength="57.36" lengthAdjust="spacingAndGlyphs">(+1.87%)</text>
<text x="740.45" y="58.7" font-size="14" fill="#131722" font-weight="normal" text-anchor="start" textLength="20.90" lengthAdjust="spacingAndGlyphs">Vol</text>
<text x="760.79" y="58.7" font-size="14" fill="#089981" font-weight="normal" text-anchor="start" textLength="36.75" lengthAdjust="spacingAndGlyphs">66.28</text>
<text x="799.60" y="58.7" font-size="14" fill="#089981" font-weight="normal" text-anchor="start" textLength="12.46" lengthAdjust="spacingAndGlyphs">M</text>
<text x="22.76" y="500.9" font-size="15.2" fill="#131722" font-weight="normal" text-anchor="start" textLength="20.34" lengthAdjust="spacingAndGlyphs">RSI</text>
<text x="52.05" y="500.9" font-size="15.2" fill="#7e57c2" font-weight="normal" text-anchor="start" textLength="37.62" lengthAdjust="spacingAndGlyphs">34.57</text>
<text x="97.96" y="500.9" font-size="15.2" fill="#fdd835" font-weight="normal" text-anchor="start" textLength="37.49" lengthAdjust="spacingAndGlyphs">35.07</text>
<text x="60.90" y="746.9" font-size="14.6" fill="#131722" font-weight="normal" text-anchor="start" textLength="26.24" lengthAdjust="spacingAndGlyphs">Mar</text>
<text x="196.93" y="746.9" font-size="14.6" fill="#131722" font-weight="normal" text-anchor="start" textLength="23.50" lengthAdjust="spacingAndGlyphs">Apr</text>
<text x="323.85" y="746.9" font-size="14.6" fill="#131722" font-weight="normal" text-anchor="start" textLength="27.28" lengthAdjust="spacingAndGlyphs">May</text>
<text x="460.33" y="746.9" font-size="14.6" fill="#131722" font-weight="normal" text-anchor="start" textLength="24.19" lengthAdjust="spacingAndGlyphs">Jun</text>
<text x="591.83" y="746.9" font-size="14.6" fill="#131722" font-weight="normal" text-anchor="start" textLength="20.57" lengthAdjust="spacingAndGlyphs">Jul</text>
<text x="723.60" y="746.9" font-size="14.6" fill="#131722" font-weight="normal" text-anchor="start" textLength="25.51" lengthAdjust="spacingAndGlyphs">Aug</text>
<text x="856.74" y="746.9" font-size="14.6" fill="#131722" font-weight="normal" text-anchor="start" textLength="25.40" lengthAdjust="spacingAndGlyphs">Sep</text>
<text x="986.68" y="746.9" font-size="14.6" fill="#131722" font-weight="normal" text-anchor="start" textLength="24.93" lengthAdjust="spacingAndGlyphs">Oct</text>
<text x="1120.00" y="746.9" font-size="14.6" fill="#131722" font-weight="normal" text-anchor="start" textLength="26.74" lengthAdjust="spacingAndGlyphs">Nov</text>
<text x="1250.30" y="746.9" font-size="14.6" fill="#131722" font-weight="normal" text-anchor="start" textLength="25.72" lengthAdjust="spacingAndGlyphs">Dec</text>
<text x="1518.15" y="746.9" font-size="14.6" fill="#131722" font-weight="normal" text-anchor="start" textLength="26.00" lengthAdjust="spacingAndGlyphs">Feb</text>
<text x="1638.80" y="746.9" font-size="14.6" fill="#131722" font-weight="normal" text-anchor="start" textLength="26.24" lengthAdjust="spacingAndGlyphs">Mar</text>
<text x="1379.83" y="746.9" font-size="14.6" fill="#131722" font-weight="bold" text-anchor="start" textLength="35.20" lengthAdjust="spacingAndGlyphs">2025</text>
<defs>
<linearGradient id="gob" gradientUnits="userSpaceOnUse" x1="0" y1="478.4" x2="0" y2="565.4"><stop offset="0" stop-color="#4caf50" stop-opacity="1"/><stop offset="1" stop-color="#4caf50" stop-opacity="0"/></linearGradient>
<linearGradient id="gos" gradientUnits="userSpaceOnUse" x1="0" y1="680.4" x2="0" y2="767.4"><stop offset="0" stop-color="#ff5252" stop-opacity="0"/><stop offset="1" stop-color="#ff5252" stop-opacity="1"/></linearGradient>
<clipPath id="cob"><rect x="13.2" y="476" width="1694" height="89.39999999999998"/></clipPath>
<clipPath id="cos"><rect x="13.2" y="680.4" width="1694" height="80"/></clipPath>
<clipPath id="cpl"><rect x="13.2" y="476" width="1694" height="248"/></clipPath>
</defs>
<polygon clip-path="url(#cob)" fill="url(#gob)" points="9.4,565.4 9.4,575.0 13.8,567.9 18.1,584.8 22.4,561.9 26.7,522.5 31.1,545.9 35.4,557.9 39.7,541.9 44.0,567.4 48.4,566.4 52.7,569.3 57.0,565.4 61.3,578.8 65.6,568.8 70.0,566.9 74.3,563.4 78.6,571.3 82.9,578.8 87.3,570.3 91.6,593.3 95.9,564.9 100.2,554.9 104.5,565.4 108.9,565.7 113.2,581.3 117.5,569.8 121.8,569.3 126.2,571.3 130.5,591.2 134.8,616.6 139.1,634.6 143.5,621.1 147.8,631.6 152.1,651.8 156.4,628.6 160.7,632.4 165.1,637.6 169.4,638.0 173.7,628.6 178.0,612.2 182.4,606.6 186.7,621.9 191.0,616.4 195.3,616.6 199.7,623.4 204.0,617.8 208.3,632.4 212.6,646.6 216.9,649.6 221.3,641.0 225.6,642.5 229.9,638.3 234.2,638.3 238.6,625.6 242.9,642.8 247.2,646.6 251.5,652.6 255.8,678.7 260.2,691.4 264.5,673.5 268.8,679.5 273.1,678.7 277.5,681.7 281.8,666.5 286.1,670.2 290.4,647.3 294.8,639.8 299.1,636.1 303.4,544.0 307.7,595.0 312.0,603.9 316.4,612.2 320.7,618.6 325.0,621.9 329.3,622.6 333.7,634.6 338.0,626.4 342.3,624.1 346.6,610.4 350.9,613.2 355.3,611.4 359.6,606.9 363.9,615.9 368.2,620.1 372.6,612.6 376.9,621.6 381.2,620.1 385.5,616.4 389.9,619.6 394.2,623.4 398.5,611.9 402.8,608.9 407.1,603.6 411.5,604.7 415.8,613.2 420.1,599.7 424.4,606.6 428.8,611.7 433.1,623.4 437.4,625.6 441.7,624.4 446.1,629.8 450.4,629.7 454.7,637.3 459.0,640.3 463.3,648.5 467.7,649.9 472.0,650.6 476.3,653.0 480.6,641.8 485.0,636.8 489.3,627.1 493.6,639.4 497.9,663.0 502.2,673.9 506.6,667.5 510.9,673.9 515.2,678.0 519.5,655.5 523.9,664.5 528.2,670.2 532.5,673.5 536.8,666.0 541.2,682.2 545.5,687.0 549.8,671.5 554.1,672.3 558.4,676.5 562.8,679.0 567.1,683.2 571.4,676.5 575.7,667.5 580.1,674.2 584.4,660.8 588.7,666.0 593.0,668.7 597.3,665.6 601.7,665.3 606.0,654.3 610.3,674.5 614.6,692.9 619.0,687.4 623.3,669.3 627.6,683.2 631.9,672.4 636.3,665.6 640.6,668.5 644.9,671.5 649.2,661.5 653.5,638.6 657.9,634.1 662.2,606.8 666.5,613.9 670.8,622.2 675.2,632.2 679.5,622.2 683.8,622.9 688.1,622.5 692.5,641.6 696.8,652.1 701.1,658.4 705.4,659.9 709.7,645.3 714.1,643.4 718.4,649.1 722.7,651.3 727.0,657.3 731.4,669.3 735.7,666.3 740.0,679.8 744.3,685.7 748.6,696.2 753.0,702.9 757.3,680.5 761.6,690.2 765.9,645.3 770.3,654.0 774.6,656.1 778.9,666.6 783.2,659.3 787.6,657.6 791.9,659.6 796.2,665.8 800.5,666.0 804.8,660.3 809.2,656.9 813.5,648.0 817.8,651.3 822.1,643.1 826.5,639.4 830.8,610.6 835.1,605.4 839.4,615.1 843.7,632.6 848.1,651.3 852.4,657.3 856.7,657.6 861.0,656.1 865.4,663.3 869.7,672.3 874.0,648.8 878.3,658.1 882.7,654.8 887.0,661.8 891.3,666.3 895.6,652.5 899.9,643.5 904.3,633.1 908.6,633.8 912.9,640.5 917.2,634.6 921.6,621.1 925.9,627.8 930.2,638.3 934.5,643.1 938.8,639.0 943.2,629.3 947.5,620.3 951.8,611.4 956.1,588.5 960.5,609.4 964.8,584.4 969.1,585.5 973.4,581.2 977.8,566.5 982.1,566.2 986.4,573.5 990.7,571.4 995.0,604.2 999.4,638.3 1003.7,645.3 1008.0,643.5 1012.3,623.3 1016.7,633.1 1021.0,625.1 1025.3,636.1 1029.6,636.5 1034.0,649.5 1038.3,648.8 1042.6,640.5 1046.9,638.3 1051.2,640.5 1055.6,621.8 1059.9,601.9 1064.2,620.3 1068.5,638.0 1072.9,633.8 1077.2,619.6 1081.5,605.1 1085.8,626.0 1090.1,627.8 1094.5,635.0 1098.8,636.8 1103.1,655.8 1107.4,651.8 1111.8,646.5 1116.1,647.0 1120.4,639.0 1124.7,648.8 1129.1,660.3 1133.4,664.5 1137.7,668.7 1142.0,679.4 1146.3,680.9 1150.7,641.3 1155.0,622.6 1159.3,621.1 1163.6,602.0 1168.0,598.2 1172.3,583.3 1176.6,569.8 1180.9,550.0 1185.2,585.5 1189.6,568.3 1193.9,551.8 1198.2,527.5 1202.5,526.9 1206.9,501.0 1211.2,531.6 1215.5,554.1 1219.8,549.9 1224.2,537.6 1228.5,534.3 1232.8,549.6 1237.1,570.8 1241.4,567.8 1245.8,565.0 1250.1,563.1 1254.4,541.4 1258.7,554.8 1263.1,535.4 1267.4,512.2 1271.7,511.8 1276.0,539.4 1280.4,538.4 1284.7,522.7 1289.0,551.1 1293.3,550.8 1297.6,586.7 1302.0,582.5 1306.3,580.3 1310.6,584.8 1314.9,576.5 1319.3,589.5 1323.6,589.2 1327.9,598.2 1332.2,597.6 1336.5,605.9 1340.9,609.6 1345.2,607.7 1349.5,620.4 1353.8,611.8 1358.2,595.4 1362.5,578.2 1366.8,590.9 1371.1,610.3 1375.5,615.6 1379.8,605.6 1384.1,615.6 1388.4,616.3 1392.7,623.4 1397.1,606.3 1401.4,608.1 1405.7,595.7 1410.0,602.1 1414.4,605.1 1418.7,601.4 1423.0,616.6 1427.3,620.8 1431.6,632.5 1436.0,621.6 1440.3,614.1 1444.6,625.6 1448.9,628.3 1453.3,616.3 1457.6,590.9 1461.9,572.2 1466.2,567.7 1470.6,584.2 1474.9,606.6 1479.2,598.4 1483.5,601.4 1487.8,610.3 1492.2,608.9 1496.5,610.0 1500.8,606.2 1505.1,614.1 1509.5,622.3 1513.8,634.3 1518.1,626.1 1522.4,619.6 1526.8,627.8 1531.1,646.2 1535.4,664.5 1539.7,644.8 1544.0,658.2 1548.4,664.9 1552.7,669.4 1557.0,665.7 1561.3,664.9 1565.7,667.4 1570.0,663.9 1574.3,665.7 1578.6,658.2 1582.9,664.9 1587.3,658.4 1591.6,659.6 1595.9,667.9 1600.2,672.4 1604.6,676.7 1608.9,663.9 1613.2,653.9 1617.5,660.4 1621.9,657.4 1626.2,663.4 1630.5,675.2 1634.8,671.9 1639.1,673.9 1643.5,666.9 1643.5,565.4"/>
<polygon clip-path="url(#cos)" fill="url(#gos)" points="9.4,680.4 9.4,575.0 13.8,567.9 18.1,584.8 22.4,561.9 26.7,522.5 31.1,545.9 35.4,557.9 39.7,541.9 44.0,567.4 48.4,566.4 52.7,569.3 57.0,565.4 61.3,578.8 65.6,568.8 70.0,566.9 74.3,563.4 78.6,571.3 82.9,578.8 87.3,570.3 91.6,593.3 95.9,564.9 100.2,554.9 104.5,565.4 108.9,565.7 113.2,581.3 117.5,569.8 121.8,569.3 126.2,571.3 130.5,591.2 134.8,616.6 139.1,634.6 143.5,621.1 147.8,631.6 152.1,651.8 156.4,628.6 160.7,632.4 165.1,637.6 169.4,638.0 173.7,628.6 178.0,612.2 182.4,606.6 186.7,621.9 191.0,616.4 195.3,616.6 199.7,623.4 204.0,617.8 208.3,632.4 212.6,646.6 216.9,649.6 221.3,641.0 225.6,642.5 229.9,638.3 234.2,638.3 238.6,625.6 242.9,642.8 247.2,646.6 251.5,652.6 255.8,678.7 260.2,691.4 264.5,673.5 268.8,679.5 273.1,678.7 277.5,681.7 281.8,666.5 286.1,670.2 290.4,647.3 294.8,639.8 299.1,636.1 303.4,544.0 307.7,595.0 312.0,603.9 316.4,612.2 320.7,618.6 325.0,621.9 329.3,622.6 333.7,634.6 338.0,626.4 342.3,624.1 346.6,610.4 350.9,613.2 355.3,611.4 359.6,606.9 363.9,615.9 368.2,620.1 372.6,612.6 376.9,621.6 381.2,620.1 385.5,616.4 389.9,619.6 394.2,623.4 398.5,611.9 402.8,608.9 407.1,603.6 411.5,604.7 415.8,613.2 420.1,599.7 424.4,606.6 428.8,611.7 433.1,623.4 437.4,625.6 441.7,624.4 446.1,629.8 450.4,629.7 454.7,637.3 459.0,640.3 463.3,648.5 467.7,649.9 472.0,650.6 476.3,653.0 480.6,641.8 485.0,636.8 489.3,627.1 493.6,639.4 497.9,663.0 502.2,673.9 506.6,667.5 510.9,673.9 515.2,678.0 519.5,655.5 523.9,664.5 528.2,670.2 532.5,673.5 536.8,666.0 541.2,682.2 545.5,687.0 549.8,671.5 554.1,672.3 558.4,676.5 562.8,679.0 567.1,683.2 571.4,676.5 575.7,667.5 580.1,674.2 584.4,660.8 588.7,666.0 593.0,668.7 597.3,665.6 601.7,665.3 606.0,654.3 610.3,674.5 614.6,692.9 619.0,687.4 623.3,669.3 627.6,683.2 631.9,672.4 636.3,665.6 640.6,668.5 644.9,671.5 649.2,661.5 653.5,638.6 657.9,634.1 662.2,606.8 666.5,613.9 670.8,622.2 675.2,632.2 679.5,622.2 683.8,622.9 688.1,622.5 692.5,641.6 696.8,652.1 701.1,658.4 705.4,659.9 709.7,645.3 714.1,643.4 718.4,649.1 722.7,651.3 727.0,657.3 731.4,669.3 735.7,666.3 740.0,679.8 744.3,685.7 748.6,696.2 753.0,702.9 757.3,680.5 761.6,690.2 765.9,645.3 770.3,654.0 774.6,656.1 778.9,666.6 783.2,659.3 787.6,657.6 791.9,659.6 796.2,665.8 800.5,666.0 804.8,660.3 809.2,656.9 813.5,648.0 817.8,651.3 822.1,643.1 826.5,639.4 830.8,610.6 835.1,605.4 839.4,615.1 843.7,632.6 848.1,651.3 852.4,657.3 856.7,657.6 861.0,656.1 865.4,663.3 869.7,672.3 874.0,648.8 878.3,658.1 882.7,654.8 887.0,661.8 891.3,666.3 895.6,652.5 899.9,643.5 904.3,633.1 908.6,633.8 912.9,640.5 917.2,634.6 921.6,621.1 925.9,627.8 930.2,638.3 934.5,643.1 938.8,639.0 943.2,629.3 947.5,620.3 951.8,611.4 956.1,588.5 960.5,609.4 964.8,584.4 969.1,585.5 973.4,581.2 977.8,566.5 982.1,566.2 986.4,573.5 990.7,571.4 995.0,604.2 999.4,638.3 1003.7,645.3 1008.0,643.5 1012.3,623.3 1016.7,633.1 1021.0,625.1 1025.3,636.1 1029.6,636.5 1034.0,649.5 1038.3,648.8 1042.6,640.5 1046.9,638.3 1051.2,640.5 1055.6,621.8 1059.9,601.9 1064.2,620.3 1068.5,638.0 1072.9,633.8 1077.2,619.6 1081.5,605.1 1085.8,626.0 1090.1,627.8 1094.5,635.0 1098.8,636.8 1103.1,655.8 1107.4,651.8 1111.8,646.5 1116.1,647.0 1120.4,639.0 1124.7,648.8 1129.1,660.3 1133.4,664.5 1137.7,668.7 1142.0,679.4 1146.3,680.9 1150.7,641.3 1155.0,622.6 1159.3,621.1 1163.6,602.0 1168.0,598.2 1172.3,583.3 1176.6,569.8 1180.9,550.0 1185.2,585.5 1189.6,568.3 1193.9,551.8 1198.2,527.5 1202.5,526.9 1206.9,501.0 1211.2,531.6 1215.5,554.1 1219.8,549.9 1224.2,537.6 1228.5,534.3 1232.8,549.6 1237.1,570.8 1241.4,567.8 1245.8,565.0 1250.1,563.1 1254.4,541.4 1258.7,554.8 1263.1,535.4 1267.4,512.2 1271.7,511.8 1276.0,539.4 1280.4,538.4 1284.7,522.7 1289.0,551.1 1293.3,550.8 1297.6,586.7 1302.0,582.5 1306.3,580.3 1310.6,584.8 1314.9,576.5 1319.3,589.5 1323.6,589.2 1327.9,598.2 1332.2,597.6 1336.5,605.9 1340.9,609.6 1345.2,607.7 1349.5,620.4 1353.8,611.8 1358.2,595.4 1362.5,578.2 1366.8,590.9 1371.1,610.3 1375.5,615.6 1379.8,605.6 1384.1,615.6 1388.4,616.3 1392.7,623.4 1397.1,606.3 1401.4,608.1 1405.7,595.7 1410.0,602.1 1414.4,605.1 1418.7,601.4 1423.0,616.6 1427.3,620.8 1431.6,632.5 1436.0,621.6 1440.3,614.1 1444.6,625.6 1448.9,628.3 1453.3,616.3 1457.6,590.9 1461.9,572.2 1466.2,567.7 1470.6,584.2 1474.9,606.6 1479.2,598.4 1483.5,601.4 1487.8,610.3 1492.2,608.9 1496.5,610.0 1500.8,606.2 1505.1,614.1 1509.5,622.3 1513.8,634.3 1518.1,626.1 1522.4,619.6 1526.8,627.8 1531.1,646.2 1535.4,664.5 1539.7,644.8 1544.0,658.2 1548.4,664.9 1552.7,669.4 1557.0,665.7 1561.3,664.9 1565.7,667.4 1570.0,663.9 1574.3,665.7 1578.6,658.2 1582.9,664.9 1587.3,658.4 1591.6,659.6 1595.9,667.9 1600.2,672.4 1604.6,676.7 1608.9,663.9 1613.2,653.9 1617.5,660.4 1621.9,657.4 1626.2,663.4 1630.5,675.2 1634.8,671.9 1639.1,673.9 1643.5,666.9 1643.5,680.4"/>
<g stroke-width="1.15" stroke-dasharray="5 6" fill="none">
<line x1="13.2" y1="565.5" x2="1702" y2="565.5" stroke="#6a6d78"/>
<line x1="13.2" y1="680.5" x2="1702" y2="680.5" stroke="#6a6d78"/>
<line x1="13.2" y1="623.5" x2="1702" y2="623.5" stroke="#787b86" stroke-opacity="0.6"/>
</g>
<g clip-path="url(#cpl)" fill="none" stroke-linejoin="round" stroke-linecap="round" stroke-width="1.3">
<polyline stroke="#7e57c2" points="9.4,575.0 13.8,567.9 18.1,584.8 22.4,561.9 26.7,522.5 31.1,545.9 35.4,557.9 39.7,541.9 44.0,567.4 48.4,566.4 52.7,569.3 57.0,565.4 61.3,578.8 65.6,568.8 70.0,566.9 74.3,563.4 78.6,571.3 82.9,578.8 87.3,570.3 91.6,593.3 95.9,564.9 100.2,554.9 104.5,565.4 108.9,565.7 113.2,581.3 117.5,569.8 121.8,569.3 126.2,571.3 130.5,591.2 134.8,616.6 139.1,634.6 143.5,621.1 147.8,631.6 152.1,651.8 156.4,628.6 160.7,632.4 165.1,637.6 169.4,638.0 173.7,628.6 178.0,612.2 182.4,606.6 186.7,621.9 191.0,616.4 195.3,616.6 199.7,623.4 204.0,617.8 208.3,632.4 212.6,646.6 216.9,649.6 221.3,641.0 225.6,642.5 229.9,638.3 234.2,638.3 238.6,625.6 242.9,642.8 247.2,646.6 251.5,652.6 255.8,678.7 260.2,691.4 264.5,673.5 268.8,679.5 273.1,678.7 277.5,681.7 281.8,666.5 286.1,670.2 290.4,647.3 294.8,639.8 299.1,636.1 303.4,544.0 307.7,595.0 312.0,603.9 316.4,612.2 320.7,618.6 325.0,621.9 329.3,622.6 333.7,634.6 338.0,626.4 342.3,624.1 346.6,610.4 350.9,613.2 355.3,611.4 359.6,606.9 363.9,615.9 368.2,620.1 372.6,612.6 376.9,621.6 381.2,620.1 385.5,616.4 389.9,619.6 394.2,623.4 398.5,611.9 402.8,608.9 407.1,603.6 411.5,604.7 415.8,613.2 420.1,599.7 424.4,606.6 428.8,611.7 433.1,623.4 437.4,625.6 441.7,624.4 446.1,629.8 450.4,629.7 454.7,637.3 459.0,640.3 463.3,648.5 467.7,649.9 472.0,650.6 476.3,653.0 480.6,641.8 485.0,636.8 489.3,627.1 493.6,639.4 497.9,663.0 502.2,673.9 506.6,667.5 510.9,673.9 515.2,678.0 519.5,655.5 523.9,664.5 528.2,670.2 532.5,673.5 536.8,666.0 541.2,682.2 545.5,687.0 549.8,671.5 554.1,672.3 558.4,676.5 562.8,679.0 567.1,683.2 571.4,676.5 575.7,667.5 580.1,674.2 584.4,660.8 588.7,666.0 593.0,668.7 597.3,665.6 601.7,665.3 606.0,654.3 610.3,674.5 614.6,692.9 619.0,687.4 623.3,669.3 627.6,683.2 631.9,672.4 636.3,665.6 640.6,668.5 644.9,671.5 649.2,661.5 653.5,638.6 657.9,634.1 662.2,606.8 666.5,613.9 670.8,622.2 675.2,632.2 679.5,622.2 683.8,622.9 688.1,622.5 692.5,641.6 696.8,652.1 701.1,658.4 705.4,659.9 709.7,645.3 714.1,643.4 718.4,649.1 722.7,651.3 727.0,657.3 731.4,669.3 735.7,666.3 740.0,679.8 744.3,685.7 748.6,696.2 753.0,702.9 757.3,680.5 761.6,690.2 765.9,645.3 770.3,654.0 774.6,656.1 778.9,666.6 783.2,659.3 787.6,657.6 791.9,659.6 796.2,665.8 800.5,666.0 804.8,660.3 809.2,656.9 813.5,648.0 817.8,651.3 822.1,643.1 826.5,639.4 830.8,610.6 835.1,605.4 839.4,615.1 843.7,632.6 848.1,651.3 852.4,657.3 856.7,657.6 861.0,656.1 865.4,663.3 869.7,672.3 874.0,648.8 878.3,658.1 882.7,654.8 887.0,661.8 891.3,666.3 895.6,652.5 899.9,643.5 904.3,633.1 908.6,633.8 912.9,640.5 917.2,634.6 921.6,621.1 925.9,627.8 930.2,638.3 934.5,643.1 938.8,639.0 943.2,629.3 947.5,620.3 951.8,611.4 956.1,588.5 960.5,609.4 964.8,584.4 969.1,585.5 973.4,581.2 977.8,566.5 982.1,566.2 986.4,573.5 990.7,571.4 995.0,604.2 999.4,638.3 1003.7,645.3 1008.0,643.5 1012.3,623.3 1016.7,633.1 1021.0,625.1 1025.3,636.1 1029.6,636.5 1034.0,649.5 1038.3,648.8 1042.6,640.5 1046.9,638.3 1051.2,640.5 1055.6,621.8 1059.9,601.9 1064.2,620.3 1068.5,638.0 1072.9,633.8 1077.2,619.6 1081.5,605.1 1085.8,626.0 1090.1,627.8 1094.5,635.0 1098.8,636.8 1103.1,655.8 1107.4,651.8 1111.8,646.5 1116.1,647.0 1120.4,639.0 1124.7,648.8 1129.1,660.3 1133.4,664.5 1137.7,668.7 1142.0,679.4 1146.3,680.9 1150.7,641.3 1155.0,622.6 1159.3,621.1 1163.6,602.0 1168.0,598.2 1172.3,583.3 1176.6,569.8 1180.9,550.0 1185.2,585.5 1189.6,568.3 1193.9,551.8 1198.2,527.5 1202.5,526.9 1206.9,501.0 1211.2,531.6 1215.5,554.1 1219.8,549.9 1224.2,537.6 1228.5,534.3 1232.8,549.6 1237.1,570.8 1241.4,567.8 1245.8,565.0 1250.1,563.1 1254.4,541.4 1258.7,554.8 1263.1,535.4 1267.4,512.2 1271.7,511.8 1276.0,539.4 1280.4,538.4 1284.7,522.7 1289.0,551.1 1293.3,550.8 1297.6,586.7 1302.0,582.5 1306.3,580.3 1310.6,584.8 1314.9,576.5 1319.3,589.5 1323.6,589.2 1327.9,598.2 1332.2,597.6 1336.5,605.9 1340.9,609.6 1345.2,607.7 1349.5,620.4 1353.8,611.8 1358.2,595.4 1362.5,578.2 1366.8,590.9 1371.1,610.3 1375.5,615.6 1379.8,605.6 1384.1,615.6 1388.4,616.3 1392.7,623.4 1397.1,606.3 1401.4,608.1 1405.7,595.7 1410.0,602.1 1414.4,605.1 1418.7,601.4 1423.0,616.6 1427.3,620.8 1431.6,632.5 1436.0,621.6 1440.3,614.1 1444.6,625.6 1448.9,628.3 1453.3,616.3 1457.6,590.9 1461.9,572.2 1466.2,567.7 1470.6,584.2 1474.9,606.6 1479.2,598.4 1483.5,601.4 1487.8,610.3 1492.2,608.9 1496.5,610.0 1500.8,606.2 1505.1,614.1 1509.5,622.3 1513.8,634.3 1518.1,626.1 1522.4,619.6 1526.8,627.8 1531.1,646.2 1535.4,664.5 1539.7,644.8 1544.0,658.2 1548.4,664.9 1552.7,669.4 1557.0,665.7 1561.3,664.9 1565.7,667.4 1570.0,663.9 1574.3,665.7 1578.6,658.2 1582.9,664.9 1587.3,658.4 1591.6,659.6 1595.9,667.9 1600.2,672.4 1604.6,676.7 1608.9,663.9 1613.2,653.9 1617.5,660.4 1621.9,657.4 1626.2,663.4 1630.5,675.2 1634.8,671.9 1639.1,673.9 1643.5,666.9"/>
<polyline stroke="#fdd835" points="10.5,613.5 13.2,609.7 18.1,602.6 22.9,595.9 26.5,586.8 29.9,581.8 34.9,577.8 39.4,572.8 44.4,570.8 49.9,567.9 56.9,563.9 62.9,562.9 69.8,561.6 74.3,561.4 78.3,560.4 82.8,561.6 87.3,564.9 91.8,568.4 96.8,569.3 104.7,569.6 109.7,569.6 114.7,570.3 119.7,570.1 124.7,569.8 129.7,571.6 134.7,575.8 139.6,580.3 148.6,586.8 155.6,594.8 160.4,601.7 169.4,611.9 179.8,619.6 188.8,625.6 194.8,627.1 203.8,626.4 212.7,625.9 221.7,627.9 230.7,628.2 238.2,629.8 251.6,636.5 263.6,649.6 272.6,654.8 286.8,662.0 298.8,663.5 303.2,656.3 308.5,652.6 316.0,645.1 320.4,639.5 326.4,634.6 333.9,626.4 341.4,620.4 348.9,615.5 359.3,610.7 365.3,615.9 372.8,618.1 380.3,618.6 390.0,618.1 400.9,615.6 409.9,614.4 418.9,614.1 429.4,612.2 439.8,613.7 451.8,615.9 459.3,618.9 465.3,623.4 472.7,628.6 481.7,633.9 487.7,636.4 493.7,638.6 502.7,645.1 514.6,652.8 526.6,656.6 537.1,659.7 544.5,665.3 550.5,669.5 556.5,671.5 568.5,673.9 580.4,674.2 589.4,673.9 599.9,673.0 605.9,670.2 610.4,670.2 616.4,672.3 625.3,672.0 634.3,671.7 640.3,671.2 644.8,672.0 650.0,671.5 658.0,667.5 666.9,660.3 675.9,651.3 683.4,644.6 690.9,637.9 699.8,635.6 710.3,633.7 717.8,635.2 725.3,640.1 735.7,646.8 743.2,654.3 750.7,662.6 758.2,667.5 765.7,668.8 774.6,670.8 783.6,672.0 792.6,671.5 800.1,670.5 807.5,667.0 815.0,661.1 822.5,656.6 827.0,655.8 834.5,650.6 840.4,645.3 847.9,643.4 855.4,643.1 862.9,642.1 870.4,643.4 877.8,643.9 885.3,645.3 892.8,651.3 898.8,655.5 904.8,655.5 910.0,654.0 913.5,653.3 920.9,650.0 929.9,644.6 935.9,643.1 943.4,640.5 950.9,634.6 956.1,629.0 961.3,626.3 968.8,620.3 976.3,612.1 982.3,606.1 986.8,602.4 991.2,597.2 997.2,595.4 1003.2,596.4 1010.7,599.1 1016.7,602.4 1021.2,604.2 1027.2,608.7 1034.6,615.9 1039.1,621.8 1045.1,628.6 1051.1,636.1 1055.6,637.6 1060.1,634.6 1066.0,633.1 1073.5,633.5 1081.0,631.3 1090.0,629.6 1099.0,627.8 1106.4,629.8 1110.9,630.1 1116.9,633.1 1124.4,636.5 1130.4,639.0 1137.8,643.5 1143.8,650.3 1149.1,654.0 1154.3,653.3 1159.5,652.1 1164.8,647.3 1170.0,642.0 1190.7,614.7 1195.2,606.0 1200.4,593.7 1204.9,581.8 1210.9,567.6 1218.3,558.6 1224.3,552.6 1230.3,546.6 1234.8,545.6 1241.5,546.9 1246.8,545.6 1253.5,544.1 1260.2,546.2 1267.0,547.4 1273.7,545.9 1279.7,544.4 1284.9,543.3 1291.6,544.4 1300.6,546.6 1309.6,549.6 1319.3,554.8 1326.0,562.3 1332.0,571.3 1339.5,579.5 1347.0,588.5 1354.5,596.0 1360.4,596.7 1366.4,597.2 1375.4,601.7 1384.4,604.9 1392.8,607.7 1401.8,607.7 1410.8,605.6 1418.3,605.9 1427.2,610.6 1434.7,612.1 1442.2,613.3 1449.7,614.5 1455.7,613.3 1464.6,608.9 1470.6,607.4 1479.6,607.1 1488.6,604.4 1496.0,602.9 1503.5,601.8 1509.5,601.1 1517.0,604.1 1524.5,610.3 1530.4,616.3 1539.4,623.8 1546.9,630.5 1554.4,637.3 1561.1,644.8 1569.3,651.2 1576.8,655.2 1584.3,660.5 1586.9,661.4 1592.9,662.4 1598.9,664.2 1603.9,665.4 1608.9,665.4 1613.8,664.2 1619.8,663.4 1624.8,663.4 1629.8,664.2 1635.8,664.9 1639.8,665.6 1643.5,665.7"/>
</g>
<g fill="#121317">
<path d="M13.1 774.8H22.9V786.8H17.9V779.6H13.1Z"/><circle cx="26.7" cy="777.3" r="2.5"/><path d="M30.4 774.8H37.1L33.2 786.8H26.8Z"/>
</g>
<text x="41.71" y="786.8" font-size="14.9" fill="#111" font-weight="normal" text-anchor="start" textLength="87.95" lengthAdjust="spacingAndGlyphs" stroke="#111" stroke-width="0.2">TradingView</text>
</svg>
</body></html>
